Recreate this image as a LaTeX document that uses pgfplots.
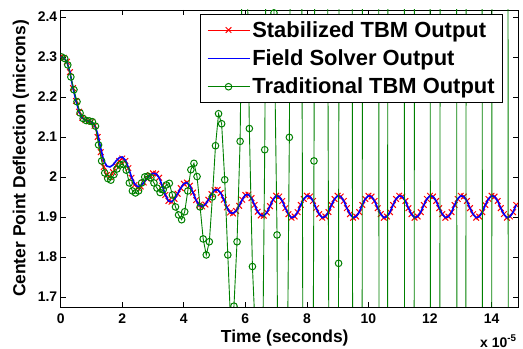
\documentclass[border=0pt]{standalone}
\usepackage{fontspec}
\setmainfont{Liberation Sans}
\usepackage{pgfplots}
\usepackage{pgfplotstable}
\pgfplotsset{compat=1.18}
\definecolor{mgreen}{rgb}{0,0.5,0}

\pgfplotstableread{
t red blue
0.0 2.300 2.300
0.1 2.298 2.298
0.2 2.288 2.288
0.3 2.262 2.262
0.4 2.222 2.222
0.5 2.190 2.190
0.6 2.163 2.163
0.7 2.148 2.148
0.8 2.142 2.142
0.9 2.140 2.140
1.0 2.138 2.138
1.1 2.128 2.130
1.2 2.100 2.108
1.3 2.062 2.072
1.4 2.025 2.040
1.5 2.005 2.027
1.6 2.000 2.025
1.7 2.012 2.030
1.8 2.028 2.040
1.9 2.040 2.048
2.0 2.046 2.050
2.1 2.040 2.042
2.2 2.022 2.024
2.3 1.998 2.000
2.4 1.980 1.983
2.5 1.973 1.976
2.6 1.976 1.978
2.7 1.986 1.986
2.8 1.996 1.996
2.9 2.004 2.004
3.0 2.009 2.009
3.1 2.008 2.008
3.2 1.998 1.998
3.3 1.978 1.978
3.4 1.955 1.955
3.5 1.940 1.940
3.6 1.938 1.938
3.7 1.945 1.945
3.8 1.958 1.958
3.9 1.972 1.972
4.0 1.983 1.983
4.1 1.986 1.986
4.2 1.978 1.978
4.3 1.961 1.961
4.4 1.942 1.942
4.5 1.929 1.929
4.6 1.926 1.926
4.7 1.931 1.931
4.8 1.943 1.943
4.9 1.957 1.957
5.0 1.967 1.967
5.1 1.968 1.968
5.2 1.960 1.960
5.3 1.943 1.943
5.4 1.924 1.924
5.5 1.911 1.911
5.6 1.909 1.909
5.7 1.915 1.915
5.8 1.928 1.928
5.9 1.943 1.943
6.0 1.955 1.955
6.1 1.956 1.956
6.2 1.947 1.947
6.3 1.930 1.930
6.4 1.913 1.913
6.5 1.904 1.904
6.6 1.903 1.903
6.7 1.911 1.911
6.8 1.927 1.927
6.9 1.943 1.943
7.0 1.953 1.953
7.1 1.951 1.951
7.2 1.940 1.940
7.3 1.922 1.922
7.4 1.907 1.907
7.5 1.898 1.898
7.6 1.901 1.901
7.7 1.912 1.912
7.8 1.930 1.930
7.9 1.945 1.945
8.0 1.953 1.953
8.1 1.951 1.951
8.2 1.940 1.940
8.3 1.922 1.922
8.4 1.907 1.907
8.5 1.898 1.898
8.6 1.901 1.901
8.7 1.912 1.912
8.8 1.930 1.930
8.9 1.945 1.945
9.0 1.953 1.953
9.1 1.951 1.951
9.2 1.940 1.940
9.3 1.922 1.922
9.4 1.907 1.907
9.5 1.898 1.898
9.6 1.901 1.901
9.7 1.912 1.912
9.8 1.930 1.930
9.9 1.945 1.945
10.0 1.953 1.953
10.1 1.951 1.951
10.2 1.940 1.940
10.3 1.922 1.922
10.4 1.907 1.907
10.5 1.898 1.898
10.6 1.901 1.901
10.7 1.912 1.912
10.8 1.930 1.930
10.9 1.945 1.945
11.0 1.953 1.953
11.1 1.951 1.951
11.2 1.940 1.940
11.3 1.922 1.922
11.4 1.907 1.907
11.5 1.898 1.898
11.6 1.901 1.901
11.7 1.912 1.912
11.8 1.930 1.930
11.9 1.945 1.945
12.0 1.953 1.953
12.1 1.951 1.951
12.2 1.940 1.940
12.3 1.922 1.922
12.4 1.907 1.907
12.5 1.898 1.898
12.6 1.901 1.901
12.7 1.912 1.912
12.8 1.930 1.930
12.9 1.945 1.945
13.0 1.953 1.953
13.1 1.951 1.951
13.2 1.940 1.940
13.3 1.922 1.922
13.4 1.907 1.907
13.5 1.898 1.898
13.6 1.901 1.901
13.7 1.912 1.912
13.8 1.930 1.930
13.9 1.945 1.945
14.0 1.953 1.953
14.1 1.951 1.951
14.2 1.940 1.940
14.3 1.922 1.922
14.4 1.907 1.907
14.5 1.898 1.898
14.6 1.901 1.901
14.7 1.912 1.912
14.8 1.930 1.930
}\stabdata

\pgfplotstableread{
t v
0.03 2.300
0.13 2.296
0.23 2.280
0.33 2.250
0.43 2.218
0.53 2.188
0.63 2.160
0.73 2.146
0.83 2.141
0.93 2.140
1.03 2.138
1.13 2.127
1.23 2.080
1.33 2.040
1.43 2.010
1.53 1.996
1.63 1.992
1.73 2.006
1.83 2.020
1.93 2.030
2.03 2.032
2.13 2.017
2.23 1.985
2.33 1.965
2.43 1.960
2.53 1.965
2.63 1.985
2.73 2.000
2.83 2.002
2.93 1.998
3.03 1.985
3.13 1.972
3.23 1.961
3.33 1.968
3.43 1.980
3.53 1.984
3.63 1.955
3.73 1.925
3.83 1.905
3.93 1.893
4.03 1.913
4.13 1.965
4.23 2.018
4.33 2.034
4.43 2.001
4.53 1.925
4.63 1.845
4.73 1.805
4.83 1.838
4.93 1.950
5.03 2.078
5.13 2.158
5.23 2.133
5.33 1.993
5.43 1.805
5.53 1.620
5.63 1.677
5.73 1.838
5.83 2.089
5.93 2.750
6.03 2.700
6.13 2.121
6.23 1.776
6.33 1.600
6.43 0.900
6.53 1.282
6.63 2.068
6.73 3.200
6.83 3.500
6.93 2.410
7.03 1.855
7.13 0.050
7.23 -0.300
7.33 1.200
7.43 2.099
7.53 3.500
7.63 4.000
7.73 4.200
7.83 2.600
7.93 0.000
8.03 -0.800
8.13 0.200
8.23 2.040
8.33 4.000
8.43 4.800
8.53 5.000
8.63 3.500
8.73 1.200
8.83 -1.000
8.93 -1.000
9.03 1.784
9.13 7.000
9.23 7.500
9.33 7.500
9.43 6.000
9.53 -2.000
9.63 -6.000
9.73 -5.000
9.83 5.000
9.93 8.000
10.03 9.000
10.13 9.000
10.23 8.000
10.33 3.000
10.43 -7.000
10.53 -7.500
10.63 2.500
10.73 9.000
10.83 9.500
10.93 9.500
11.03 9.000
11.13 6.000
11.23 -4.000
11.33 -8.000
11.43 -4.000
11.53 6.000
11.63 10.000
11.73 10.500
11.83 10.500
11.93 10.000
12.03 0.000
12.13 -8.000
12.23 -8.000
12.33 2.500
12.43 10.000
12.53 11.000
12.63 11.000
12.73 10.500
12.83 6.000
12.93 -4.000
13.03 -8.000
13.13 -2.000
13.23 8.000
13.33 11.000
13.43 11.500
13.53 11.500
13.63 9.000
13.73 -1.000
13.83 -9.000
13.93 -6.000
14.03 4.000
14.13 11.000
14.23 12.000
14.33 12.000
14.43 11.000
14.53 3.000
14.63 -7.000
14.73 -10.000
14.83 -9.000
}\tradata

\begin{document}
\begin{tikzpicture}
\useasboundingbox (-60.7bp,-42bp) rectangle (462.3bp,307bp);
\begin{axis}[
  at={(0,0)}, anchor=south west,
  width=457.3bp, height=297bp, scale only axis,
  xmin=0, xmax=14.86, ymin=1.675, ymax=2.4175,
  xtick={0,2,4,6,8,10,12,14},
  ytick={1.7,1.8,1.9,2,2.1,2.2,2.3,2.4},
  yticklabels={1.7,1.8,1.9,2,2.1,2.2,2.3,2.4},
  tick align=inside, major tick length=5bp,
  tick style={black, line width=0.6bp},
  axis line style={black, line width=0.8bp},
  /pgf/number format/assume math mode=true,
  ticklabel style={font=\fontsize{14}{16}\selectfont\bfseries},
  xticklabel style={yshift=-3bp},
  label style={font=\fontsize{17.5}{20}\selectfont\bfseries},
  xlabel={Time (seconds)},
  ylabel={Center Point Deflection (microns)},
  xlabel style={at={(axis description cs:0.49,-0.104)}, anchor=center},
  ylabel style={at={(axis description cs:-0.087,0.5)}, anchor=center},
  clip marker paths=true,
  legend cell align=left,
  legend style={at={(axis description cs:1,1)}, anchor=north east,
    xshift=-15bp, yshift=-4bp, draw=black, line width=0.8bp, fill=white,
    font=\fontsize{22}{26}\selectfont\bfseries, inner xsep=6bp, inner ysep=5bp,
    row sep=7bp},
  legend image code/.code={\draw[mark repeat=2, mark phase=2, #1] plot coordinates {(0bp,0bp) (21bp,0bp) (42bp,0bp)};},
]
\addplot[red, line width=0.7bp, mark=x, mark size=4bp, mark options={solid, line width=1bp}] table[x=t,y=red]{\stabdata};
\addlegendentry{Stabilized TBM Output}
\addplot[blue, line width=1.6bp] table[x=t,y=blue]{\stabdata};
\addlegendentry{Field Solver Output}
\addplot[mgreen, line width=0.9bp, mark=o, mark size=3.3bp, mark options={solid, line width=1bp}] table[x=t,y=v]{\tradata};
\addlegendentry{Traditional TBM Output}
\end{axis}
\node[anchor=base east, font=\fontsize{14}{16}\selectfont\bfseries] at (459.3bp,-40bp) {x 10\textsuperscript{-5}};
\end{tikzpicture}
\end{document}
